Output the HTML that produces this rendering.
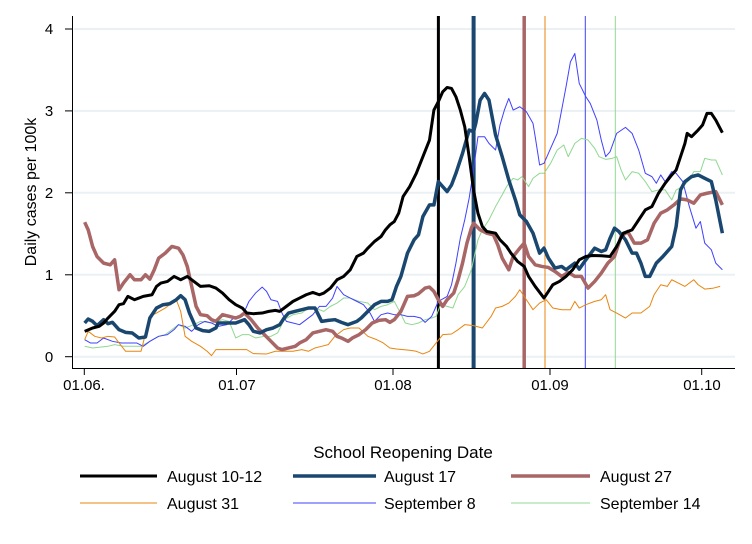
<!DOCTYPE html>
<html><head><meta charset="utf-8"><style>
html,body{margin:0;padding:0;background:#fff;}
svg{display:block;font-family:"Liberation Sans",sans-serif;}
.s{fill:none;vector-effect:non-scaling-stroke;stroke-linejoin:round;}
</style></head><body>
<svg width="752" height="544" viewBox="0 0 752 544">
<rect width="752" height="544" fill="#fff"/>
<g stroke="#eaf0f3" stroke-width="2">
<line x1="74" x2="735" y1="29" y2="29"/><line x1="74" x2="735" y1="110.9" y2="110.9"/>
<line x1="74" x2="735" y1="192.8" y2="192.8"/><line x1="74" x2="735" y1="274.8" y2="274.8"/>
<line x1="74" x2="735" y1="356.7" y2="356.7"/>
</g>
<g stroke="#000" stroke-width="1">
<line x1="72.5" x2="72.5" y1="16" y2="368"/><line x1="72" x2="735" y1="368.5" y2="368.5"/>
<line x1="65" x2="72" y1="29" y2="29"/><line x1="65" x2="72" y1="110.9" y2="110.9"/><line x1="65" x2="72" y1="192.8" y2="192.8"/><line x1="65" x2="72" y1="274.8" y2="274.8"/><line x1="65" x2="72" y1="356.7" y2="356.7"/>
<line x1="84.3" x2="84.3" y1="368" y2="375"/><line x1="236.5" x2="236.5" y1="368" y2="375"/><line x1="393" x2="393" y1="368" y2="375"/><line x1="550" x2="550" y1="368" y2="375"/><line x1="701.7" x2="701.7" y1="368" y2="375"/>
</g>
<g font-size="15" text-anchor="middle" fill="#000">
<text x="49" y="34">4</text><text x="49" y="116">3</text><text x="49" y="198">2</text><text x="49" y="280">1</text><text x="49" y="362">0</text>
<text x="84" y="390">01.06.</text><text x="237" y="390">01.07</text><text x="393" y="390">01.08</text><text x="550" y="390">01.09</text><text x="702" y="390">01.10</text>
<text transform="translate(36,192) rotate(-90)" font-size="16">Daily cases per 100k</text>
</g>
<g>
<line x1="438.4" x2="438.4" y1="16" y2="368" stroke="#000" stroke-width="3"/>
<line x1="473.6" x2="473.6" y1="16" y2="368" stroke="#1a476f" stroke-width="4"/>
<line x1="524.2" x2="524.2" y1="16" y2="368" stroke="#a86666" stroke-width="3.5"/>
<line x1="545" x2="545" y1="16" y2="368" stroke="#e8850f" stroke-width="1"/>
<line x1="585.3" x2="585.3" y1="16" y2="368" stroke="#4040ff" stroke-width="1"/>
<line x1="615.3" x2="615.3" y1="16" y2="368" stroke="#90d890" stroke-width="1"/>
</g>
<g transform="translate(59.57,0.29) scale(0.4404,0.3327)">
<polyline class="s" stroke="#90d890" stroke-width="1" points="57,1040 75,1045 95,1042 110,1040 125,1035 145,1040 165,1040 185,1040 205,1025 225,1010 240,1005 255,990 270,975 285,985 305,975 320,965 345,970 370,960 385,965 400,1015 415,1005 430,1005 445,1015 465,1010 480,1010 495,1000 510,960 530,945 550,940 565,925 580,925 600,935 615,920 630,910 645,895 660,895 680,905 700,910 715,930 730,920 745,915 760,905 770,930 785,970 800,975 815,970 830,960 845,955 855,950 865,915 880,920 893,925 905,885 920,860 935,810 950,720 960,690 975,660 990,620 1005,585 1015,560 1030,535 1040,540 1050,530 1065,560 1075,535 1090,520 1100,520 1115,490 1130,450 1145,435 1155,470 1170,430 1185,415 1200,420 1215,445 1225,470 1240,478 1255,475 1265,470 1275,510 1285,540 1300,515 1315,520 1330,545 1345,575 1360,570 1375,570 1390,600 1400,570 1415,560 1430,540 1440,515 1455,515 1465,475 1480,480 1490,480 1505,525"/>
<polyline class="s" stroke="#4040ff" stroke-width="1" points="57,1020 70,1030 85,1030 100,1015 120,1025 140,1030 160,1030 175,1030 190,1040 205,1025 225,1010 245,1005 260,990 270,975 285,980 300,995 315,975 330,965 345,970 360,980 380,975 395,955 415,950 430,905 445,880 460,862 470,875 480,900 495,905 505,940 515,965 530,970 545,975 560,960 575,945 590,920 605,920 620,895 630,860 645,885 660,895 675,905 690,915 705,940 715,965 730,945 745,940 760,945 775,945 790,950 805,950 820,955 830,968 845,950 860,905 880,890 890,855 900,790 910,715 920,660 930,595 940,510 950,410 965,410 975,430 990,450 1000,375 1010,330 1020,295 1030,330 1045,320 1060,335 1075,370 1080,410 1090,495 1100,490 1115,445 1130,400 1140,330 1150,260 1160,185 1170,160 1180,250 1195,290 1205,310 1220,360 1230,420 1240,470 1250,455 1265,400 1285,382 1300,400 1315,450 1330,520 1345,530 1355,550 1365,525 1375,545 1390,515 1400,520 1415,545 1430,620 1445,685 1455,665 1465,730 1480,750 1490,790 1505,810"/>
<polyline class="s" stroke="#e8850f" stroke-width="1" points="57,1020 65,995 80,1010 95,1015 110,1010 125,1012 135,1030 150,1055 165,1055 185,1055 205,950 220,940 240,925 255,910 265,900 275,935 285,1010 300,1025 320,1040 335,1055 345,1068 355,1050 375,1050 400,1050 425,1050 440,1062 470,1063 490,1055 510,1055 530,1055 550,1050 565,1055 580,1045 595,1040 610,1035 625,1010 645,990 660,985 680,985 700,1010 720,1020 735,1030 750,1045 765,1048 780,1050 795,1052 810,1055 825,1063 840,1055 855,1030 870,1005 890,1003 905,990 920,975 940,978 960,985 980,950 990,925 1005,920 1020,910 1035,890 1045,870 1060,900 1075,930 1090,910 1105,900 1120,925 1140,930 1160,930 1170,905 1180,925 1195,915 1215,905 1230,900 1240,885 1250,930 1265,940 1285,955 1300,940 1320,940 1340,920 1350,885 1365,855 1380,860 1390,840 1405,850 1420,860 1440,840 1450,855 1465,868 1485,865 1500,860"/>
<polyline class="s" stroke="#a86666" stroke-width="3.5" points="57,667 65,690 75,740 85,770 100,790 115,795 125,780 135,870 145,850 160,825 170,840 185,840 195,825 205,838 215,810 225,775 240,760 255,740 270,745 280,765 290,800 300,860 310,920 320,945 335,948 345,960 355,965 370,945 385,950 400,955 410,950 420,940 435,960 450,985 465,1005 480,1025 495,1045 505,1050 520,1045 535,1040 545,1030 560,1020 575,1000 590,995 605,990 620,995 630,1010 640,1015 655,1025 665,1015 680,1005 695,990 710,970 725,962 740,960 750,968 760,960 775,935 790,890 805,888 815,882 830,865 840,862 850,875 860,900 870,920 880,900 895,880 905,840 915,790 925,730 935,685 940,670 955,690 970,700 985,705 995,735 1005,775 1020,810 1030,770 1045,745 1055,730 1065,770 1080,795 1095,800 1110,803 1125,815 1140,830 1155,818 1170,830 1185,830 1200,865 1215,845 1230,820 1245,790 1260,770 1275,710 1290,695 1305,730 1320,730 1335,720 1350,670 1365,640 1380,630 1395,615 1410,597 1425,600 1440,610 1455,585 1470,580 1490,575 1505,615"/>
<polyline class="s" stroke="#1a476f" stroke-width="3.5" points="57,970 65,958 75,965 85,978 100,960 110,972 120,968 135,990 150,998 165,1000 180,1015 195,1012 205,955 220,925 235,915 250,912 265,900 275,888 285,900 295,940 310,985 325,993 340,995 355,985 360,970 380,970 400,970 420,960 430,975 440,995 455,1000 470,990 485,985 500,975 510,955 520,940 535,935 550,930 565,925 580,925 595,965 610,962 625,960 640,968 655,975 665,970 675,965 685,955 700,935 715,915 730,905 745,905 755,900 765,860 775,830 790,760 805,720 815,705 825,650 840,615 850,615 860,545 870,560 880,575 890,555 900,520 915,460 930,390 940,395 945,370 955,300 965,280 975,300 990,405 1005,470 1020,540 1035,600 1045,645 1060,665 1075,700 1090,760 1100,745 1110,775 1125,805 1140,800 1150,810 1160,800 1170,790 1180,808 1195,780 1215,745 1230,755 1240,750 1250,715 1260,685 1270,695 1285,720 1300,760 1310,760 1320,790 1330,830 1340,830 1355,790 1370,770 1390,740 1400,680 1410,570 1420,545 1435,530 1450,525 1465,535 1480,545 1490,600 1505,700"/>
<polyline class="s" stroke="#000" stroke-width="3" points="57,995 75,985 90,980 100,970 110,955 125,935 135,915 145,912 155,890 170,900 180,895 190,890 210,885 220,860 230,850 245,845 260,830 275,840 290,830 305,845 320,860 340,858 355,865 370,880 385,900 400,915 415,925 425,940 440,942 460,940 475,935 490,932 500,935 515,920 530,905 545,895 560,885 575,878 590,885 600,880 615,865 630,840 645,830 660,810 675,770 690,760 700,745 715,725 730,710 740,690 750,675 760,665 770,640 780,590 795,560 810,520 825,470 840,420 850,330 860,305 870,275 880,262 890,265 900,290 910,330 920,380 930,470 940,570 950,640 960,680 970,695 990,700 1000,720 1015,740 1025,760 1040,785 1055,800 1065,830 1080,860 1100,895 1110,875 1120,855 1135,845 1150,830 1165,810 1180,780 1195,770 1210,767 1230,768 1250,770 1265,740 1280,700 1300,690 1315,660 1330,630 1345,620 1360,580 1375,550 1390,525 1400,510 1410,470 1420,430 1425,400 1435,410 1450,390 1460,375 1470,340 1480,340 1490,360 1505,398"/>
</g>
<g font-size="16" fill="#000">
<text x="403" y="458" text-anchor="middle" font-size="17">School Reopening Date</text>
<line x1="80" x2="157" y1="476" y2="476" stroke="#000" stroke-width="3"/><text x="167" y="482">August 10-12</text>
<line x1="293" x2="376" y1="476" y2="476" stroke="#1a476f" stroke-width="3.5"/><text x="384" y="482">August 17</text>
<line x1="511" x2="590" y1="476" y2="476" stroke="#a86666" stroke-width="3.5"/><text x="600" y="482">August 27</text>
<line x1="80" x2="157" y1="503" y2="503" stroke="#e8850f" stroke-width="1"/><text x="167" y="509">August 31</text>
<line x1="293" x2="376" y1="503" y2="503" stroke="#4040ff" stroke-width="1"/><text x="384" y="509">September 8</text>
<line x1="511" x2="590" y1="503" y2="503" stroke="#90d890" stroke-width="1"/><text x="600" y="509">September 14</text>
</g>
</svg>
</body></html>
